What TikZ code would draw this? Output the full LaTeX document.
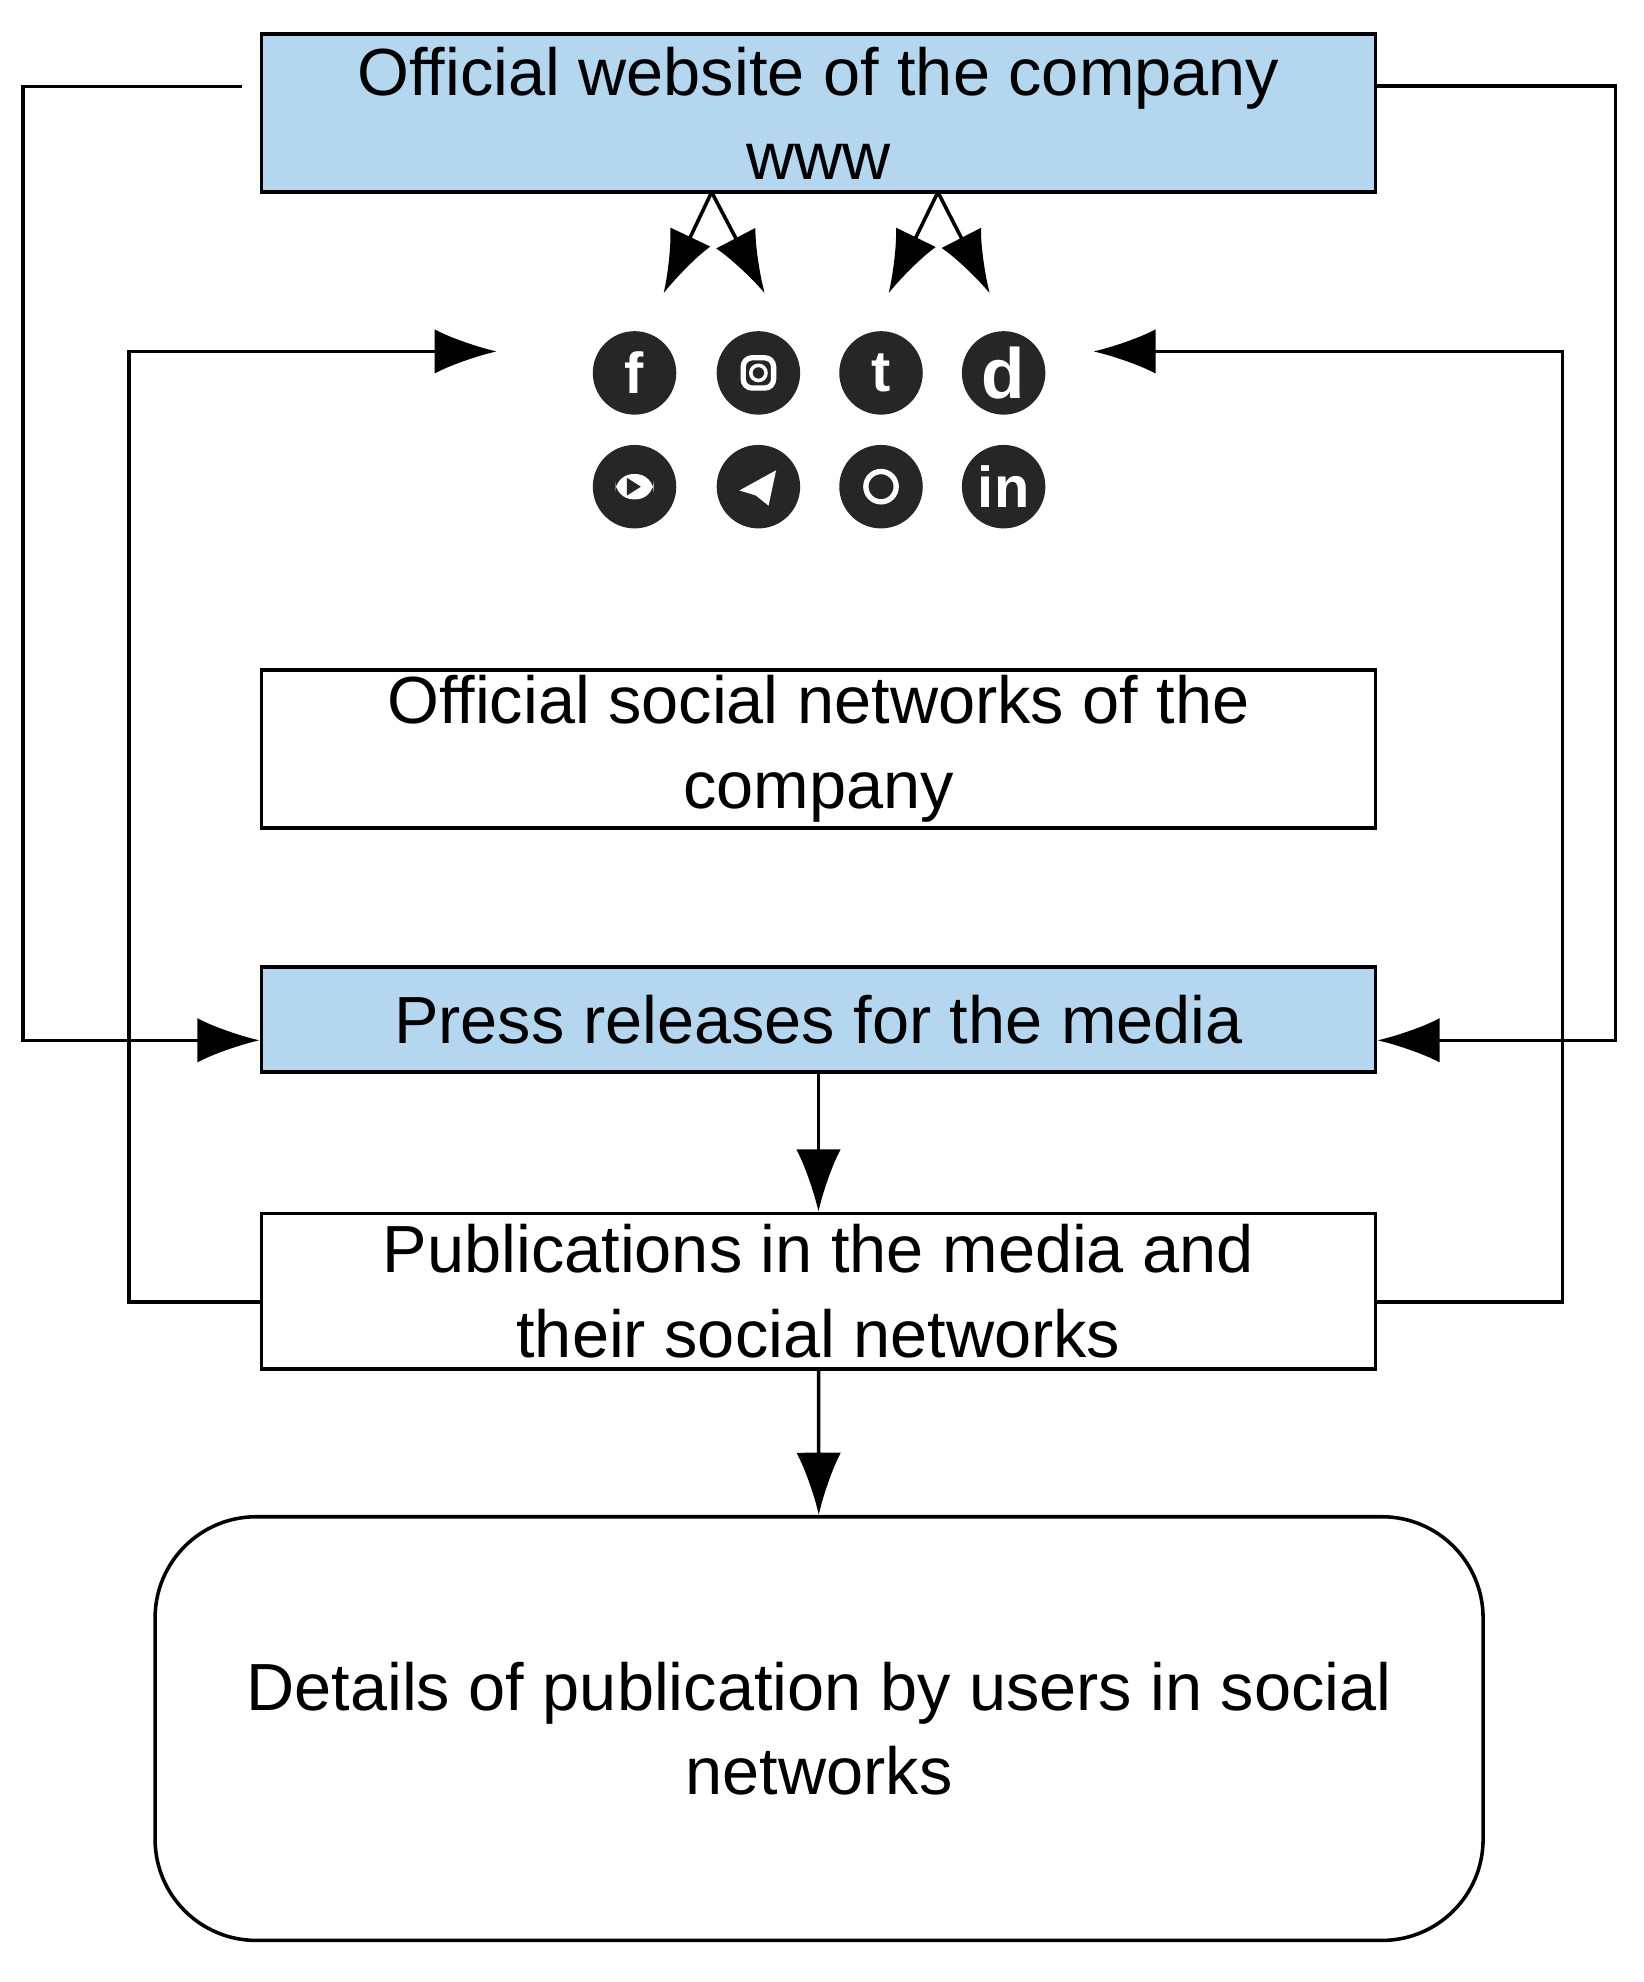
\documentclass[tikz,border=0pt]{standalone}
\usepackage{fontspec}
\setmainfont{Liberation Sans}
\usetikzlibrary{arrows.meta,positioning}
\definecolor{boxblue}{RGB}{180,214,238}

\begin{document}
\begin{tikzpicture}[x=0.01cm,y=-0.01cm,
                    box/.style={draw, thick, minimum width=8.81cm, align=center,
                                font=\fontsize{15}{19}\selectfont, inner sep=0pt},
                    bluebox/.style={box, fill=boxblue},
                    link/.style={thick, -{Latex[length=14pt,width=10pt]}},
                    icon/.style={circle, fill=black!85, minimum size=0.66cm, inner sep=0pt,
                                 text=white, font=\bfseries\fontsize{13}{13}\selectfont},
                   ]

\useasboundingbox (0,0) rectangle (1300,1568);

% boxes
\node[bluebox, minimum height=1.25cm] (web) at (647.5,89.5) {Official website of the company\\www};
\node[box, minimum height=1.25cm] (social) at (647.5,592.5) {Official social networks of the\\company};
\node[bluebox, minimum height=0.83cm] (press) at (647.5,806.5) {Press releases for the media};
\node[box, minimum height=1.23cm] (pub) at (647.5,1021.5) {Publications in the media and\\their social networks};
\node[draw, thick, rounded corners=0.8cm, minimum width=10.5cm, minimum height=3.35cm,
      align=center, font=\fontsize{15}{19}\selectfont] (details) at (648,1367.5)
      {Details of publication by users in social\\networks};

% icons
\node[icon] (ic1) at (502,295) {f};
\node[icon] (ic2) at (600,295) {};
\draw[white, very thick, rounded corners=2pt] (588,283) rectangle (612,307);
\draw[white, thick] (ic2.center) circle (6);
\node[icon] (ic3) at (697,295) {t};
\node[icon] (ic4) at (794,295) {\fontsize{16}{16}\selectfont d};
\node[icon] (ic5) at (502,385) {};
\fill[white, rounded corners=4pt] (487,375) rectangle (517,395);
\fill[black!85] (496,378) -- (496,392) -- (507,385) -- cycle;
\node[icon] (ic6) at (600,385) {};
\fill[white] (585,388) -- (614,372) -- (608,400) -- (598,392) -- cycle;
\node[icon] (ic7) at (697,385) {};
\draw[white, very thick] (ic7.center) circle (12);
\node[icon] (ic8) at (794,385) {in};

% arrows to icons
\coordinate (w1) at (563,152);
\coordinate (w2) at (742,152);
\coordinate (a1) at (525,232);
\coordinate (a2) at (605,232);
\coordinate (a3) at (703,232);
\coordinate (a4) at (783,232);
\draw[link] (w1) -- (a1);
\draw[link] (w1) -- (a2);
\draw[link] (w2) -- (a3);
\draw[link] (w2) -- (a4);

% feedback lines
\coordinate (il) at (393,278);
\coordinate (ir) at (865,278);
\draw[link] (web.west) ++(-14,-21) -| (18,823) -- (press.west |- 0,823);
\draw[link] (web.east |- 0,68) -| (1278,823) -- (press.east |- 0,823);
\draw[link] (pub.west |- 0,1030) -| (102,278) -- (il);
\draw[link] (pub.east |- 0,1030) -| (1236,278) -- (ir);

% main flow
\draw[link] (press) -- (pub);
\draw[link] (pub) -- (details);

\end{tikzpicture}
\end{document}
